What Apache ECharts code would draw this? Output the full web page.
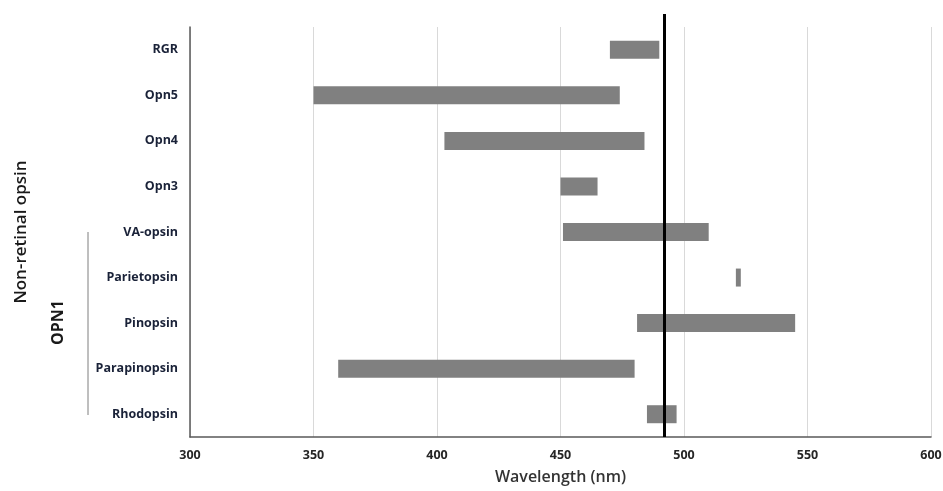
<!DOCTYPE html>
<html><head><meta charset="utf-8">
<script src="https://cdn.jsdelivr.net/npm/echarts@6/dist/echarts.min.js"></script>
<style>html,body{margin:0;padding:0;background:#fff}#c{width:943px;height:491px}</style>
</head><body><div id="c"></div>
<script>
const categories = ['RGR','Opn5','Opn4','Opn3','VA-opsin','Parietopsin','Pinopsin','Parapinopsin','Rhodopsin'];
const rangeStart = [470, 350, 403, 450, 451, 521, 481, 360, 485];
const rangeEnd   = [490, 474, 484, 465, 510, 523, 545, 480, 497];
const referenceLine = 492;
const xTicks = [300, 350, 400, 450, 500, 550, 600];

const FONT = '"Open Sans", "Liberation Sans", sans-serif';
const chart = echarts.init(document.getElementById('c'));
const option = {
  animation: false,
  grid: {left: 190, right: 12, top: 27, bottom: 54, containLabel: false, outerBoundsMode: 'none'},
  xAxis: {
    type: 'value', min: xTicks[0], max: xTicks[xTicks.length-1], interval: 50,
    name: 'Wavelength (nm)', nameLocation: 'middle', nameGap: 32,
    nameTextStyle: {fontFamily: FONT, fontSize: 16, fontWeight: 600, color: '#333'},
    axisLine: {show: true, lineStyle: {color: '#595959', width: 1.5}},
    axisTick: {show: false},
    axisLabel: {fontFamily: FONT, fontSize: 12.5, fontWeight: 'bold', color: '#262626', margin: 12},
    splitLine: {show: true, lineStyle: {color: '#d9d9d9', width: 1}}
  },
  yAxis: {
    type: 'category', data: categories, inverse: true,
    name: 'Non-retinal opsin', nameLocation: 'middle', nameGap: 160, nameRotate: 90,
    nameTextStyle: {fontFamily: FONT, fontSize: 17, fontWeight: 600, color: '#1a1a1a'},
    axisLine: {show: true, lineStyle: {color: '#595959', width: 1.5}},
    axisTick: {show: false},
    axisLabel: {fontFamily: FONT, fontSize: 12.5, fontWeight: 'bold', color: '#1a2238', margin: 12},
    splitLine: {show: false}
  },
  series: [
    {type: 'bar', stack: 'r', data: rangeStart, barWidth: 18, itemStyle: {color: 'transparent'}, silent: true},
    {type: 'bar', stack: 'r', data: rangeEnd.map((e, i) => e - rangeStart[i]), barWidth: 18,
     itemStyle: {color: '#808080'}}
  ],
  graphic: [
    {type: 'text', left: 50, top: 300, rotation: Math.PI/2,
     style: {text: 'OPN1', fontFamily: FONT, fontSize: 16, fontWeight: 'bold', fill: '#1a1a1a'}},
    {type: 'line', shape: {x1: 88, y1: 232, x2: 88, y2: 415}, style: {stroke: '#7f7f7f', lineWidth: 1}}
  ]
};
chart.setOption(option);
const px = chart.convertToPixel({xAxisIndex: 0}, referenceLine);
chart.setOption({
  series: [{}, {markLine: {silent: true, symbol: 'none', label: {show: false},
    lineStyle: {color: '#000', width: 3, type: 'solid'},
    data: [[{x: px, y: 14}, {x: px, y: 437}]]}}]
});
</script></body></html>
